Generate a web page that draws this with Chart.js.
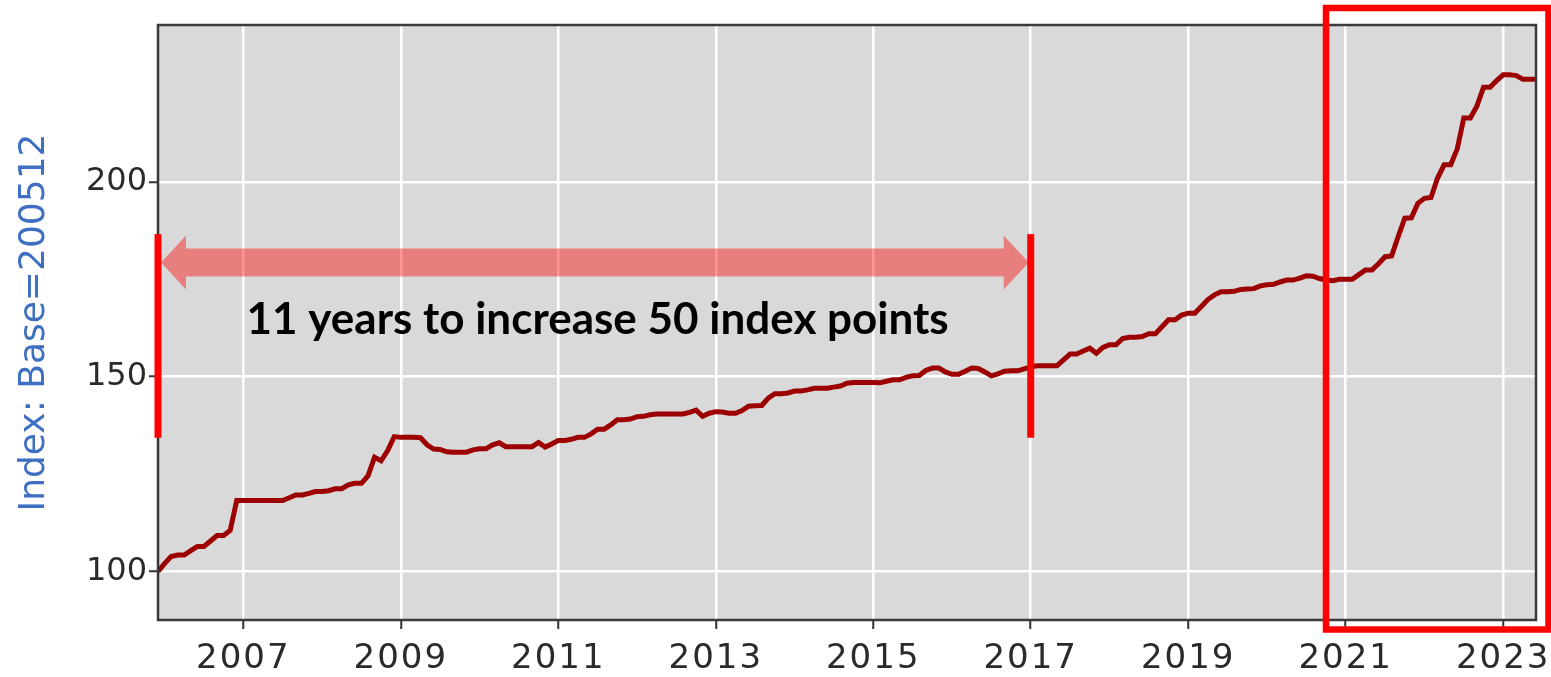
<!DOCTYPE html>
<html><head><meta charset="utf-8">
<script src="https://cdn.jsdelivr.net/npm/chart.js@4.4.0/dist/chart.umd.min.js"></script>
<style>html,body{margin:0;padding:0;background:#fff}</style>
</head><body>
<canvas id="c" width="1551" height="677"></canvas>
<script>
// Monthly index values, Base = Dec 2005 (200512) = 100
const firstYear = 2005, firstMonth = 12;
const v2005 = [100.0];
const v2006 = [102.0, 103.8, 104.2, 104.2, 105.3, 106.4, 106.4, 107.8, 109.2, 109.2, 110.5, 118.2];
const v2007 = [118.2, 118.2, 118.2, 118.2, 118.2, 118.2, 118.2, 118.9, 119.6, 119.6, 120.0, 120.5];
const v2008 = [120.5, 120.7, 121.2, 121.2, 122.2, 122.6, 122.6, 124.5, 129.3, 128.4, 131.0, 134.6];
const v2009 = [134.4, 134.4, 134.4, 134.3, 132.5, 131.4, 131.3, 130.7, 130.6, 130.6, 130.6, 131.2];
const v2010 = [131.5, 131.5, 132.5, 133.0, 132.0, 132.0, 132.0, 132.0, 132.0, 133.1, 131.9, 132.7];
const v2011 = [133.6, 133.6, 133.9, 134.4, 134.4, 135.3, 136.5, 136.5, 137.6, 138.9, 138.9, 139.1];
const v2012 = [139.7, 139.8, 140.2, 140.4, 140.4, 140.4, 140.4, 140.4, 140.8, 141.4, 139.8, 140.6];
const v2013 = [141.0, 140.9, 140.6, 140.6, 141.3, 142.4, 142.5, 142.6, 144.5, 145.6, 145.6, 145.8];
const v2014 = [146.3, 146.3, 146.6, 147.0, 147.0, 147.0, 147.3, 147.6, 148.3, 148.5, 148.5, 148.5];
const v2015 = [148.5, 148.4, 148.8, 149.2, 149.2, 149.8, 150.2, 150.3, 151.6, 152.2, 152.2, 151.2];
const v2016 = [150.6, 150.6, 151.4, 152.2, 152.1, 151.2, 150.2, 150.7, 151.4, 151.5, 151.5, 152.0];
const v2017 = [152.5, 152.8, 152.8, 152.8, 152.8, 154.3, 155.8, 155.8, 156.6, 157.3, 156.0, 157.5];
const v2018 = [158.2, 158.2, 159.8, 160.1, 160.1, 160.3, 161.0, 161.0, 162.8, 164.6, 164.6, 165.8];
const v2019 = [166.3, 166.3, 168.0, 169.8, 171.0, 171.8, 171.8, 171.9, 172.4, 172.5, 172.6, 173.3];
const v2020 = [173.6, 173.7, 174.3, 174.8, 174.8, 175.3, 175.9, 175.8, 175.2, 174.8, 174.6, 175.0];
const v2021 = [175.0, 175.0, 176.2, 177.4, 177.4, 179.0, 180.8, 181.0, 186.0, 190.7, 190.8, 194.5];
const v2022 = [195.8, 196.0, 201.0, 204.4, 204.4, 208.5, 216.4, 216.4, 219.5, 224.3, 224.3, 226.0];
const v2023 = [227.5, 227.5, 227.3, 226.4, 226.4, 226.4];

const xTicks = [2007, 2009, 2011, 2013, 2015, 2017, 2019, 2021, 2023];
const yTicks = [100, 150, 200];
const yTitle = 'Index: Base=200512';
const noteText = '11 years to increase 50 index points';
const spanStart = 2005 + 11/12, spanEnd = 2017;   // annotated period
const spanLow = 134.3, spanHigh = 186.6;           // vertical extent of marker bars
const boxFrom = 2020.75;                           // highlighted recent period

const allValues = [].concat(v2005, v2006, v2007, v2008, v2009, v2010, v2011, v2012, v2013,
  v2014, v2015, v2016, v2017, v2018, v2019, v2020, v2021, v2022, v2023);
const points = allValues.map((v, i) => ({ x: firstYear + (firstMonth - 1 + i) / 12, y: v }));

const annot = {
  id: 'annot',
  afterUpdate(chart) {
    const sx = chart.scales.x;
    if (!sx._spaced) {
      const orig = sx.drawLabels.bind(sx);
      sx.drawLabels = function (area) {
        const ctx = this.ctx;
        const prev = ctx.letterSpacing;
        ctx.letterSpacing = '2px';
        orig(area);
        ctx.letterSpacing = prev || '0px';
      };
      sx._spaced = true;
    }
  },
  beforeDraw(chart) {
    const { ctx, chartArea: a } = chart;
    ctx.save();
    ctx.fillStyle = '#d9d9d9';
    ctx.fillRect(a.left, a.top, a.right - a.left, a.bottom - a.top);
    ctx.restore();
  },
  afterDatasetsDraw(chart) {
    const { ctx, chartArea: a, scales: { x, y } } = chart;
    ctx.save();
    ctx.letterSpacing = '0px';
    // frame
    ctx.strokeStyle = '#3a3a3a';
    ctx.lineWidth = 2.5;
    ctx.strokeRect(a.left, a.top, a.right - a.left, a.bottom - a.top);

    // double arrow
    const xl = x.getPixelForValue(spanStart) + 3, xr = x.getPixelForValue(spanEnd) - 2;
    const yc = (y.getPixelForValue(179.3));
    const sh = 14, hh = 27, hl = 25;
    ctx.fillStyle = 'rgba(255,0,0,0.41)';
    ctx.beginPath();
    ctx.moveTo(xl, yc);
    ctx.lineTo(xl + hl, yc - hh);
    ctx.lineTo(xl + hl, yc - sh);
    ctx.lineTo(xr - hl, yc - sh);
    ctx.lineTo(xr - hl, yc - hh);
    ctx.lineTo(xr, yc);
    ctx.lineTo(xr - hl, yc + hh);
    ctx.lineTo(xr - hl, yc + sh);
    ctx.lineTo(xl + hl, yc + sh);
    ctx.lineTo(xl + hl, yc + hh);
    ctx.closePath();
    ctx.fill();

    // marker bars
    ctx.fillStyle = '#ff0000';
    const yt = y.getPixelForValue(spanHigh), yb = y.getPixelForValue(spanLow);
    [spanStart, spanEnd].forEach(v => {
      const px = x.getPixelForValue(v);
      ctx.fillRect(px - 3.5, yt, 7, yb - yt);
    });

    // text
    ctx.fillStyle = '#000';
    ctx.font = 'bold 44px Lato';
    ctx.textAlign = 'center';
    ctx.textBaseline = 'alphabetic';
    ctx.fillText(noteText, x.getPixelForValue(2011.5), y.getPixelForValue(161.0));

    // highlight box
    ctx.strokeStyle = '#ff0000';
    ctx.lineWidth = 6.5;
    const bl = x.getPixelForValue(boxFrom);
    ctx.strokeRect(bl, a.top - 17, (a.right + 12.5) - bl, (a.bottom + 9.5) - (a.top - 17));
    ctx.restore();
  }
};

new Chart(document.getElementById('c'), {
  type: 'line',
  data: { datasets: [{ data: points, borderColor: '#9c0000', borderWidth: 5,
    pointRadius: 0, tension: 0, fill: false }] },
  options: {
    responsive: false, animation: false,
    layout: { padding: { left: 0, top: 25, right: 15, bottom: 0 } },
    plugins: { legend: { display: false }, tooltip: { enabled: false } },
    scales: {
      x: {
        type: 'linear', min: firstYear + (firstMonth - 1) / 12, max: 2023 + 5 / 12,
        afterBuildTicks: s => { s.ticks = xTicks.map(v => ({ value: v })); },
        afterFit: s => { s.height = 57; s.paddingLeft = 0; s.paddingRight = 0; },
        grid: { color: '#ffffff', lineWidth: 2.5, tickColor: '#333', tickWidth: 2, tickLength: 9 },
        border: { display: false },
        ticks: { color: '#2a2a2a', font: { family: 'DejaVu Sans', size: 34 }, padding: 10,
          maxRotation: 0, autoSkip: false, callback: v => String(v) }
      },
      y: {
        min: 87.5, max: 240.3,
        afterBuildTicks: s => { s.ticks = yTicks.map(v => ({ value: v })); },
        afterFit: s => { s.width = 158; s.paddingTop = 0; s.paddingBottom = 0; },
        grid: { color: '#ffffff', lineWidth: 2.5, tickColor: '#333', tickWidth: 2, tickLength: 9 },
        border: { display: false },
        ticks: { color: '#2a2a2a', font: { family: 'DejaVu Sans', size: 32 }, padding: 2,
          callback: v => String(v) },
        title: { display: true, text: yTitle, color: '#3f6fc2',
          font: { family: 'DejaVu Sans', size: 36 }, padding: { top: 13, bottom: 0 } }
      }
    }
  },
  plugins: [annot]
});
</script>
</body></html>
